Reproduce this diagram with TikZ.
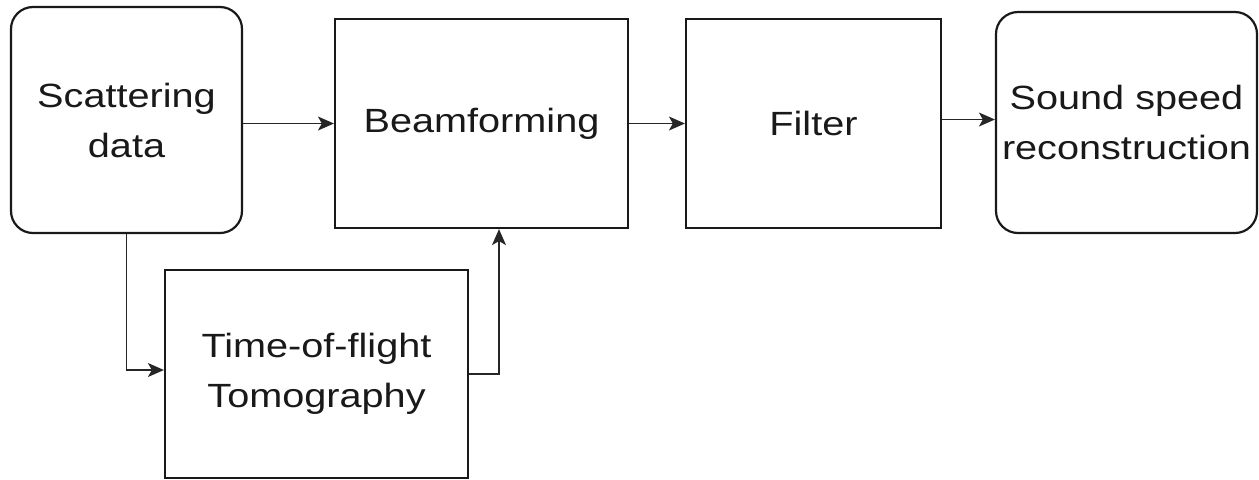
\documentclass[tikz,border=0pt]{standalone}
\usepackage{fontspec}
\setmainfont{Liberation Sans}[FakeStretch=1.18]
\usetikzlibrary{arrows.meta,positioning}
\colorlet{blockLine}{black!90}
\colorlet{flowLine}{black!85}

\begin{document}
\begin{tikzpicture}[
  x=0.5pt,
  y=-0.5pt,
  every block/.style={
    draw=blockLine,
    line width=1.1pt,
    align=center,
    inner sep=0pt,
    text=black!90,
    font=\fontsize{16.8}{25}\selectfont,
  },
  block/.style={
    every block,
  },
  round block/.style={
    every block,
    rounded corners=11pt,
  },
  flow/.style={
    draw=flowLine,
    line width=0.55pt,
    -{Stealth[length=8pt,width=7pt,inset=2pt]},
  }
]
\useasboundingbox (0,0) rectangle (1259,479);

% top row
\node[round block,minimum width=115.5pt,minimum height=113pt]
  (scatter) at (126.5,120) {Scattering\\data};
\node[block,minimum width=146.5pt,minimum height=104.5pt]
  (beam) at (481.5,123.5) {Beamforming};
\node[block,minimum width=127.5pt,minimum height=104.5pt]
  (filter) at (813.5,123.5) {Filter};
\node[round block,minimum width=130.5pt,minimum height=110.5pt]
  (sound) at (1126.5,122.5) {Sound speed\\reconstruction};

% branch below
\node[block,minimum width=151.5pt,minimum height=104pt]
  (tof) at (316.5,374) {Time-of-flight\\Tomography};

\draw[flow] (scatter.east |- beam.west) -- (beam.west);
\draw[flow] (beam) -- (filter);
\draw[flow] ([yshift=2pt]filter.east) -- ([yshift=2pt]filter.east -| sound.west);
\draw[flow] (scatter.south) |- ([yshift=2pt]tof.west);
\draw[flow] (tof.east) -| ([xshift=8.75pt]beam.south);
\end{tikzpicture}
\end{document}
